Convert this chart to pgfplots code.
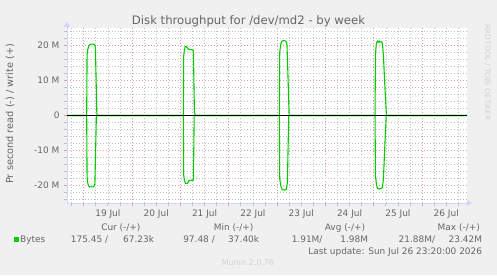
\documentclass[border=0pt]{standalone}
\usepackage{fontspec}
\setmainfont{DejaVu Sans}
\usepackage{pgfplots}
\pgfplotsset{compat=1.18}
\usetikzlibrary{arrows.meta}
\definecolor{bgc}{HTML}{F0F0F0}
\definecolor{fontc}{HTML}{666666}
\definecolor{axc}{HTML}{CFD6F8}
\definecolor{mgridc}{HTML}{E59A9A}
\definecolor{gridc}{HTML}{C0C0C0}
\definecolor{lgreen}{HTML}{00CC00}
\definecolor{faint}{HTML}{D2D2D2}

% write (+) in M bytes/s, x in days since 19 Jul 00:00
\pgfplotstableread{
x y
-0.345 0
0.062 0
0.0703 17.3
0.0869 19.0
0.1076 19.9
0.1283 20.3
0.1593 20.4
0.1904 20.4
0.2214 20.3
0.2421 19.8
0.2731 0
2.0608 0
2.0691 17.0
2.0836 18.8
2.1001 19.7
2.125 19.7
2.1519 19.2
2.1767 18.9
2.2284 18.8
2.2698 18.6
2.2905 1.0
2.305 0.3
2.3174 0
4.0472 0
4.0554 18.0
4.0761 20.3
4.0969 21.2
4.1217 21.4
4.1527 21.4
4.1837 21.2
4.2044 20.5
4.2251 12.0
4.2499 0
6.0273 0
6.0356 17.5
6.0522 20.2
6.0666 21.0
6.0832 21.3
6.0977 20.9
6.1122 21.3
6.1287 21.0
6.1597 21.1
6.1804 20.6
6.2011 17.0
6.2322 8.0
6.2632 0
7.93 0
}\writetab

% read (-)
\pgfplotstableread{
x y
-0.345 0
0.062 0
0.0703 -17.5
0.0869 -19.5
0.1076 -20.3
0.1386 -20.4
0.18 -20.4
0.211 -20.3
0.2317 -19.5
0.2628 0
2.0608 0
2.0691 -17.0
2.0836 -18.5
2.1043 -19.4
2.1457 -19.4
2.1767 -18.6
2.2284 -18.5
2.2698 -18.5
2.2864 0
4.0472 0
4.0554 -18.0
4.0803 -20.3
4.1113 -21.2
4.1527 -21.3
4.1941 -21.1
4.2148 -19.0
4.2417 0
6.0273 0
6.0356 -17.0
6.0563 -19.8
6.077 -20.8
6.108 -21.0
6.1391 -20.9
6.1804 -20.6
6.2011 -18.0
6.2322 -8.0
6.2591 0
7.93 0
}\readtab

\begin{document}
\begin{tikzpicture}[x=1bp,y=1bp]
\fill[bgc] (0,0) rectangle (497,275);
\useasboundingbox (0,0) rectangle (497,275);
\begin{axis}[
  at={(67bp,72bp)}, anchor=south west,
  width=400bp, height=175bp, scale only axis,
  xmin=-0.345, xmax=7.93, ymin=-25, ymax=25,
  axis background/.style={fill=white},
  axis lines=left,
  axis line style={axc, line width=1bp},
  x axis line style={-{Triangle[length=5bp,width=6bp]}, shorten >=-5bp},
  y axis line style={-{Triangle[length=5bp,width=6bp]}, shorten >=-6bp},
  xtick={0,1,2,3,4,5,6,7},
  xticklabels={19 Jul,20 Jul,21 Jul,22 Jul,23 Jul,24 Jul,25 Jul,26 Jul},
  xticklabel style={xshift=24.2bp, font=\fontsize{9}{9}\selectfont, text=fontc},
  minor xtick={-0.25,0.25,0.5,0.75,1.25,1.5,1.75,2.25,2.5,2.75,3.25,3.5,3.75,4.25,4.5,4.75,5.25,5.5,5.75,6.25,6.5,6.75,7.25,7.5,7.75},
  ytick={-20,-10,0,10,20},
  yticklabels={-20 M,-10 M,0\hspace{6bp},10 M,20 M},
  yticklabel style={font=\fontsize{9}{9}\selectfont, text=fontc, xshift=-1bp},
  minor ytick={-24,-22,-18,-16,-14,-12,-8,-6,-4,-2,2,4,6,8,12,14,16,18,22,24},
  grid=both,
  major grid style={mgridc, line width=0.6bp, dash pattern=on 1bp off 2bp},
  minor grid style={gridc, line width=0.6bp, dash pattern=on 1bp off 2bp},
  tick align=outside,
  major tick length=3bp, minor tick length=3bp,
  major tick style={mgridc, line width=0.7bp},
  minor tick style={gridc, line width=0.7bp},
  clip=true,
]
\addplot[lgreen, line width=1.1bp, line join=round] table[x=x,y=y] {\writetab};
\addplot[lgreen, line width=1.1bp, line join=round] table[x=x,y=y] {\readtab};
\addplot[black, line width=0.6bp] coordinates {(-0.345,0) (7.93,0)};
\end{axis}
% texts
\node[text=fontc, font=\fontsize{11.7}{12}\selectfont] at (248.5,253.5) {Disk throughput for /dev/md2 - by week};
\node[text=fontc, font=\fontsize{9.8}{10}\selectfont, rotate=90] at (10,161.2) {Pr second read (-) / write (+)};
\node[text=faint, font=\fontsize{7.5}{8}\selectfont, rotate=-90, anchor=west] at (487.5,254) {RRDTOOL / TOBI OETIKER};
\begin{scope}[every node/.style={text=fontc, font=\fontsize{9}{9}\selectfont, inner sep=0pt}]
\node[anchor=base east] at (140.7,44.5) {Cur (-/+)};
\node[anchor=base east] at (253.5,44.5) {Min (-/+)};
\node[anchor=base east] at (365.3,44.5) {Avg (-/+)};
\node[anchor=base east] at (480,44.5) {Max (-/+)};
\fill[lgreen] (14,33) rectangle (18.7,37.7);
\node[anchor=base west] at (20,32.5) {Bytes};
\node[anchor=base east] at (108.3,32.5) {175.45 /};
\node[anchor=base east] at (154.3,32.5) {67.23k};
\node[anchor=base east] at (215,32.5) {97.48 /};
\node[anchor=base east] at (259.3,32.5) {37.40k};
\node[anchor=base east] at (322.7,32.5) {1.91M/};
\node[anchor=base east] at (368.3,32.5) {1.98M};
\node[anchor=base east] at (435.3,32.5) {21.88M/};
\node[anchor=base east] at (482.3,32.5) {23.42M};
\node[anchor=base east] at (482.3,21) {Last update: Sun Jul 26 23:20:00 2026};
\node[anchor=base, text=faint, font=\fontsize{8}{8}\selectfont] at (248,9.5) {Munin 2.0.76};
\end{scope}
\end{tikzpicture}
\end{document}
